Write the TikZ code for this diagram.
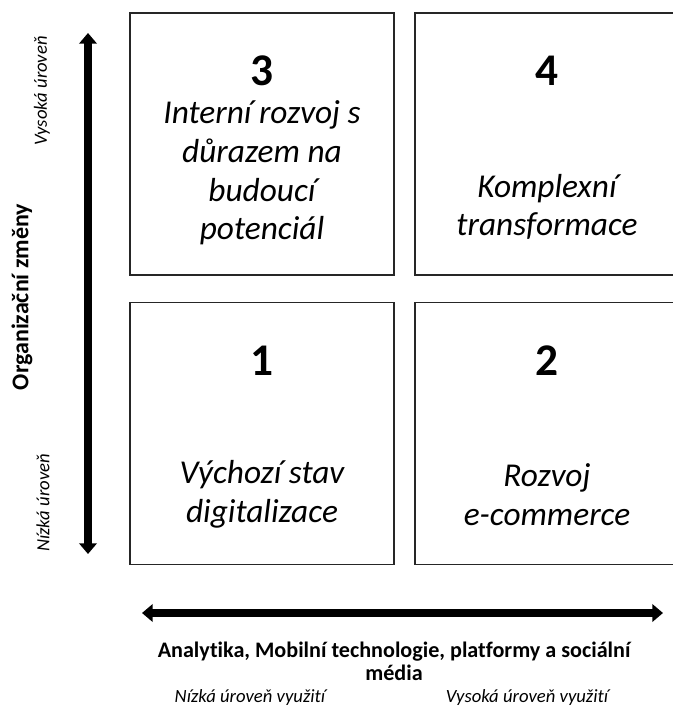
\documentclass[tikz,border=0pt]{standalone}
\usepackage{fontspec}
\setmainfont{Carlito}[Ligatures=NoCommon]
\usetikzlibrary{arrows.meta}

\begin{document}
\begin{tikzpicture}[x=0.75pt,y=-0.75pt,
    quadrant/.style={draw=black!85,line width=1.1pt,minimum width=198pt,minimum height=196.5pt,inner sep=0pt},
    qnum/.style={font=\fontsize{34}{40}\selectfont\bfseries},
    qtext/.style={align=center,font=\fontsize{25}{29}\selectfont\itshape},
    axisarrow/.style={line width=6pt,{Triangle[length=8pt,width=13pt]}-{Triangle[length=8pt,width=13pt]}},
    axislabel/.style={align=center,font=\fontsize{16.6}{17.5}\selectfont\bfseries},
    levellabel/.style={font=\fontsize{14}{16}\selectfont\itshape}]
    \useasboundingbox (0,0) rectangle (673,709);
    \foreach \n/\x/\y in {3/262/144, 4/547/144, 1/262/433.5, 2/547/433.5} {
        \node [quadrant] (q\n) at (\x,\y) {};
        \node [qnum] (num\n) at (\x,\y-73) {\n};
    }
    \node [qtext] (txt3) at (262,173) {Interní rozvoj s\\důrazem na\\budoucí\\potenciál};
    \node [qtext] (txt4) at (547,207) {Komplexní\\transformace};
    \node [qtext] (txt1) at (262,494.5) {Výchozí stav\\digitalizace};
    \node [qtext] (txt2) at (547,494.5) {Rozvoj\\e-commerce};
    % axes
    \coordinate (ytop) at (88,33);
    \coordinate (ybot) at (88,554);
    \draw [axisarrow] (ybot) -- (ytop);
    \coordinate (xleft) at (142,613);
    \coordinate (xright) at (663,613);
    \draw [axisarrow] (xleft) -- (xright);
    \node [axislabel,rotate=90,font=\fontsize{18}{20}\selectfont\bfseries] (ylab) at (22,297) {Organizační změny};
    \node [levellabel,rotate=90] (yhigh) at (42,91) {Vysoká úroveň};
    \node [levellabel,rotate=90] (ylow) at (43,503) {Nízká úroveň};
    \node [axislabel] (xlab) at (394,661) {Analytika, Mobilní technologie, platformy a sociální\\média};
    \node [levellabel] (xlow) at (250,698) {Nízká úroveň využití};
    \node [levellabel] (xhigh) at (527,698) {Vysoká úroveň využití};
\end{tikzpicture}
\end{document}
